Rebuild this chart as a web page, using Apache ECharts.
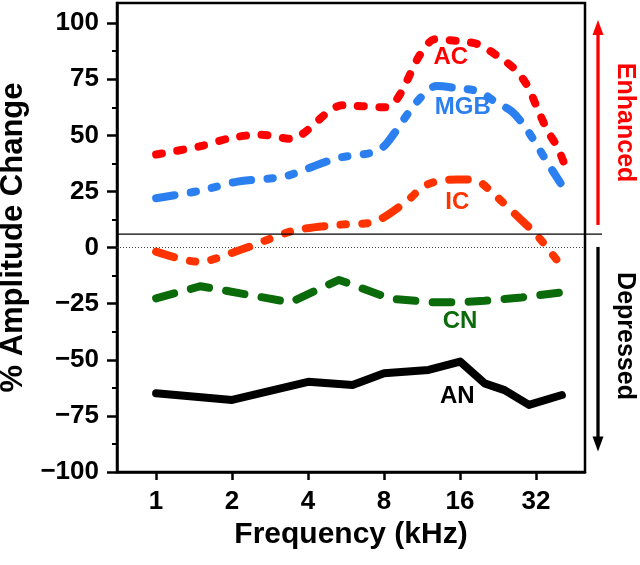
<!DOCTYPE html>
<html><head><meta charset="utf-8">
<script src="https://cdn.jsdelivr.net/npm/echarts@6/dist/echarts.min.js"></script>
<style>html,body{margin:0;padding:0;background:#fff}#c{width:640px;height:565px}</style>
</head><body><div id="c"></div>
<script>
// ---- data ----
const acFreq  = [1, 1.5, 2, 2.6, 3.4, 5.5, 8.1, 11.3, 12.7, 15.5, 18.9, 22.5, 26.4, 29.6, 32.3, 35.3, 39, 41.5];
const acVal   = [41.5, 45.2, 49, 50.3, 48.5, 63.4, 62.5, 87.3, 92.8, 92.1, 90.6, 85.4, 79.5, 72, 62.3, 52.7, 44.5, 37];
const mgbFreq = [1, 1.5, 2.1, 3.1, 3.55, 5.2, 7.4, 8.2, 10.8, 12.9, 15.7, 19.1, 22, 25.7, 28.9, 32.2, 35.3, 40];
const mgbVal  = [22, 25.4, 29.4, 31.3, 33.1, 39.8, 42.7, 46.5, 65, 72, 71, 69.5, 65, 60.6, 53.9, 45.7, 38.3, 28.7];
const icFreq  = [1, 1.47, 2.15, 3.5, 5.2, 7.3, 9.8, 11.4, 12.9, 15.5, 18.6, 21.6, 28, 32.2, 41];
const icVal   = [-1.8, -6.3, -1.1, 7.5, 10.1, 11.5, 20.5, 27.1, 29.4, 30.4, 29.8, 24.2, 12.2, 5.6, -9.2];
const cnFreq  = [1, 1.5, 3.4, 5.3, 8.5, 12.5, 16, 20, 28, 41];
const cnVal   = [-22.6, -17.2, -24.4, -14.4, -22.8, -24.4, -24.4, -23.7, -22.2, -19.9];
const anFreq  = [1, 2, 4, 6, 8, 12, 16, 20, 24, 30, 40.5];
const anVal   = [-64.9, -67.9, -59.8, -61.2, -56, -54.5, -50.8, -60.5, -63.5, -70.1, -65.7];

const xTicks = [1, 2, 4, 8, 16, 32];
const yTicks = [-100, -75, -50, -25, 0, 25, 50, 75, 100];
const yMinorTicks = [-87.5, -62.5, -37.5, -12.5, 12.5, 37.5, 62.5, 87.5];

const seriesNames = ['AC', 'MGB', 'IC', 'CN', 'AN'];
const seriesColors = ['#ff0000', '#2b7fef', '#ff3300', '#0b6b0b', '#000000'];
const labelFreq = [14.7, 16.4, 15.6, 16.0, 15.6];
const labelVal  = [84.9, 62.4, 20.1, -32.7, -66.1];

const refLineVal = 6;
const enhancedRange = [10.1, 101.4];
const depressedRange = [0.3, -90.9];
const sideLabels = ['Enhanced', 'Depressed'];
const sideLabelVal = [55.7, -39.4];
const sideColors = ['#ff0000', '#000000'];

// ---- chart ----
const FONT = '"Liberation Sans", Arial, Helvetica, sans-serif';
const pairs = (f, v) => f.map((x, i) => [x, v[i]]);
const chart = echarts.init(document.getElementById('c'), null, {renderer: 'canvas'});

const lineSeries = (name, f, v, color, dash, smooth) => ({
  type: 'line', name, data: pairs(f, v), smooth, symbol: 'none', z: 3,
  lineStyle: {color, width: 8, type: dash, cap: 'round', join: 'round'}
});

const option = {
  animation: false,
  backgroundColor: '#fff',
  grid: {left: 117, right: 55, top: 3, bottom: 93, show: true, borderColor: '#000', borderWidth: 2.5,
         backgroundColor: 'transparent', containLabel: false, outerBoundsMode: 'none'},
  xAxis: {
    type: 'log', logBase: 2, min: 0.7, max: 50,
    axisLine: {onZero: false, lineStyle: {color: '#000', width: 2.5}},
    axisTick: {customValues: xTicks, length: 8, lineStyle: {color: '#000', width: 2.5}},
    axisLabel: {customValues: xTicks, margin: 17, color: '#000', fontSize: 26, fontWeight: 'bold', fontFamily: FONT},
    splitLine: {show: false}, minorTick: {show: false},
    name: 'Frequency (kHz)', nameLocation: 'middle', nameGap: 47,
    nameTextStyle: {color: '#000', fontSize: 30, fontWeight: 'bold', fontFamily: FONT}
  },
  yAxis: [{
    type: 'value', min: -100, max: 109,
    axisLine: {show: true, onZero: false, lineStyle: {color: '#000', width: 2.5}},
    axisTick: {customValues: yTicks, length: 10, lineStyle: {color: '#000', width: 2.5}},
    axisLabel: {customValues: yTicks, margin: 18, color: '#000', fontSize: 26, fontWeight: 'bold', fontFamily: FONT,
                formatter: v => v < 0 ? '\u2212' + (-v) : String(v)},
    splitLine: {show: false},
    name: '% Amplitude Change', nameLocation: 'middle', nameGap: 88,
    nameTextStyle: {color: '#000', fontSize: 31, fontWeight: 'bold', fontFamily: FONT}
  }, {
    type: 'value', min: -100, max: 109, position: 'left',
    axisLine: {show: false, onZero: false}, axisLabel: {show: false}, splitLine: {show: false},
    axisTick: {show: true, customValues: yMinorTicks, length: 5, lineStyle: {color: '#000', width: 2}}
  }],
  series: [
    lineSeries('AC', acFreq, acVal, seriesColors[0], [6, 15.5], 0.3),
    lineSeries('MGB', mgbFreq, mgbVal, seriesColors[1], [18.7, 16.3, 5.3, 16.3, 5.3, 16.3], 0.3),
    lineSeries('IC', icFreq, icVal, seriesColors[2], [18.7, 16.3, 5.3, 16.3, 5.3, 16.3], 0.3),
    lineSeries('CN', cnFreq, cnVal, seriesColors[3], [18.7, 17.3], false),
    Object.assign(lineSeries('AN', anFreq, anVal, seriesColors[4], 'solid', false), {
      markLine: {silent: true, symbol: 'none', label: {show: false}, z: 1,
                 lineStyle: {type: [1, 2], color: '#444', width: 1}, data: [{yAxis: 0}]}
    })
  ]
};
chart.setOption(option);

// ---- annotations placed through the axes ----
const px = v => chart.convertToPixel({xAxisIndex: 0}, v);
const py = v => chart.convertToPixel({yAxisIndex: 0}, v);
const xL = px(0.7), xR = px(50);
const graphics = [];
graphics.push({type: 'line', z: 5, shape: {x1: xL, y1: py(refLineVal), x2: xR + 17, y2: py(refLineVal)},
               style: {stroke: '#000', lineWidth: 1.2}});
const ax = xR + 13;
// enhanced arrow (up)
{
  const yb = py(enhancedRange[0]), yt = py(enhancedRange[1]);
  graphics.push({type: 'line', shape: {x1: ax, y1: yb, x2: ax, y2: yt + 12}, style: {stroke: sideColors[0], lineWidth: 3.3}});
  graphics.push({type: 'polygon', shape: {points: [[ax - 5.5, yt + 15], [ax, yt], [ax + 5.5, yt + 15]]}, style: {fill: sideColors[0]}});
}
// depressed arrow (down)
{
  const yt = py(depressedRange[0]), yb = py(depressedRange[1]);
  graphics.push({type: 'line', shape: {x1: ax, y1: yt, x2: ax, y2: yb - 12}, style: {stroke: sideColors[1], lineWidth: 3.3}});
  graphics.push({type: 'polygon', shape: {points: [[ax - 5.5, yb - 15], [ax, yb], [ax + 5.5, yb - 15]]}, style: {fill: sideColors[1]}});
}
sideLabels.forEach((t, i) => {
  graphics.push({type: 'text', x: xR + 40, y: py(sideLabelVal[i]), rotation: -Math.PI / 2,
    style: {text: t, fill: sideColors[i], align: 'center', verticalAlign: 'middle',
            font: 'bold 25px ' + FONT}});
});
seriesNames.forEach((t, i) => {
  graphics.push({type: 'text', x: px(labelFreq[i]), y: py(labelVal[i]), z: 6,
    style: {text: t, fill: seriesColors[i], align: 'center', verticalAlign: 'middle',
            font: 'bold 24px ' + FONT}});
});
chart.setOption({graphic: graphics});
</script>
</body></html>
